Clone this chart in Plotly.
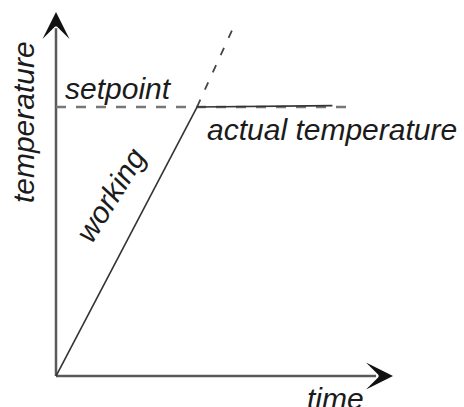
import plotly.graph_objects as go

# Conceptual data (time, temperature units)
working_time = [0, 5]
working_temp = [0, 10]

actual_time = [5, 9.8]
actual_temp = [10, 10.05]

setpoint_time = [0, 10.53]
setpoint_temp = [10, 10]

extension_time = [5, 6.28]
extension_temp = [10, 12.94]

x_axis_end = 11.95
y_axis_end = 13.53

labels = {
    "setpoint": "setpoint",
    "actual": "actual temperature",
    "working": "working",
    "ylabel": "temperature",
    "xlabel": "time",
}

AXIS_GRAY = "#5a5a5a"
LINE_DARK = "#333333"
TEXT = "#1b1b1b"
FONT = "Liberation Sans, Arial, sans-serif"

fig = go.Figure()

# axes shafts
fig.add_trace(go.Scatter(x=[0, 0], y=[0, y_axis_end - 0.6], mode="lines",
                         line=dict(color=AXIS_GRAY, width=2.5), hoverinfo="skip"))
fig.add_trace(go.Scatter(x=[0, x_axis_end - 0.6], y=[0, 0], mode="lines",
                         line=dict(color=AXIS_GRAY, width=2.5), hoverinfo="skip"))

# setpoint dashed
fig.add_trace(go.Scatter(x=setpoint_time, y=setpoint_temp, mode="lines",
                         line=dict(color="#777777", width=2.5, dash="10px,10px"),
                         hoverinfo="skip"))
# extension dashed
fig.add_trace(go.Scatter(x=extension_time, y=extension_temp, mode="lines",
                         line=dict(color="#444444", width=1.8, dash="8px,11px"),
                         hoverinfo="skip"))
# working line
fig.add_trace(go.Scatter(x=working_time, y=working_temp, mode="lines",
                         line=dict(color=LINE_DARK, width=1.6), hoverinfo="skip"))
# actual temperature
fig.add_trace(go.Scatter(x=actual_time, y=actual_temp, mode="lines",
                         line=dict(color=LINE_DARK, width=1.6), hoverinfo="skip"))

# arrow heads
fig.add_annotation(x=0, y=y_axis_end, ax=0, ay=y_axis_end - 0.5,
                   xref="x", yref="y", axref="x", ayref="y", text="",
                   showarrow=True, arrowhead=3, arrowsize=1.8, arrowwidth=2.5,
                   arrowcolor="#111111", standoff=0)
fig.add_annotation(x=x_axis_end, y=0, ax=x_axis_end - 0.5, ay=0,
                   xref="x", yref="y", axref="x", ayref="y", text="",
                   showarrow=True, arrowhead=3, arrowsize=1.8, arrowwidth=2.5,
                   arrowcolor="#111111", standoff=0)

font = dict(family=FONT, size=30, color=TEXT)

fig.add_annotation(x=0.25, y=10.67, text="<i>%s</i>" % labels["setpoint"],
                   xref="x", yref="y", xanchor="left", yanchor="middle",
                   showarrow=False, font=font)
fig.add_annotation(x=5.28, y=9.18, text="<i>%s</i>" % labels["actual"],
                   xref="x", yref="y", xanchor="left", yanchor="middle",
                   showarrow=False, font=font)
fig.add_annotation(x=8.83, y=-0.82, text="<i>%s</i>" % labels["xlabel"],
                   xref="x", yref="y", xanchor="left", yanchor="middle",
                   showarrow=False, font=font)
fig.add_annotation(x=-1.17, y=9.44, text="<i>%s</i>" % labels["ylabel"],
                   xref="x", yref="y", xanchor="center", yanchor="middle",
                   textangle=-90, showarrow=False, font=font)
fig.add_annotation(x=1.95, y=6.73, text="<i>%s</i>" % labels["working"],
                   xref="x", yref="y", xanchor="center", yanchor="middle",
                   textangle=-58, showarrow=False, font=font)

fig.update_layout(
    width=464, height=407,
    margin=dict(l=0, r=0, t=0, b=0),
    paper_bgcolor="white", plot_bgcolor="white",
    showlegend=False,
    xaxis=dict(range=[-1.986, 14.468], visible=False, fixedrange=True),
    yaxis=dict(range=[-1.152, 13.978], visible=False, fixedrange=True),
)

fig.write_html("out.html", config={"displayModeBar": False},
               post_script="document.body.style.margin='0';document.body.style.overflow='hidden';")
